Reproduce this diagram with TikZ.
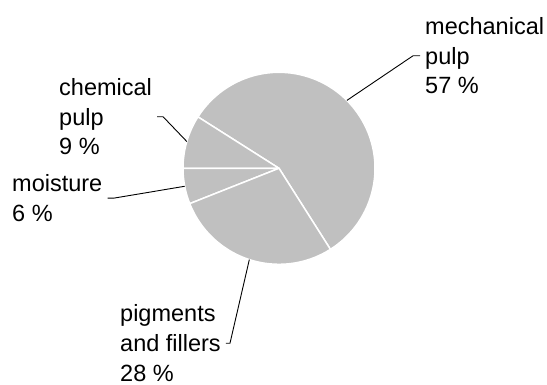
\documentclass[tikz,border=0pt]{standalone}
\usepackage{fontspec}
\setmainfont{Liberation Sans}
\usepackage{tikz}
\usepackage{xcolor}
\definecolor{piegray}{HTML}{C0C0C0}
\tikzset{
  slice/.style={fill=piegray, draw=white, line width=1.5pt, line join=round},
  lbl/.style={align=left, inner xsep=5pt, inner ysep=0pt},
  leader/.style={draw=black, line width=0.9pt}
}

\begin{document}
\begin{tikzpicture}[x=1pt, y=1pt, font=\fontsize{23.5}{29.8}\selectfont]
    \useasboundingbox (0,0) rectangle (547,385);
    \coordinate (o) at (279,216.7);
    \foreach \a/\b in {-57.6/147.6, 147.6/180, 180/201.6, 201.6/302.4}
        \draw[slice] (o) -- ++(\a:96) arc[start angle=\a, end angle=\b, radius=96] -- cycle;
    \coordinate (mechedge) at ([shift={(45:96)}]o);
    \coordinate (chemedge) at ([shift={(163.8:96)}]o);
    \coordinate (moistedge) at ([shift={(190.8:96)}]o);
    \coordinate (pigedge) at ([shift={(252:96)}]o);
    % base anchor sits on the last line
    \node[lbl, anchor=base west] (mech) at (420,291) {mechanical\\pulp\\57 \%};
    \node[lbl, anchor=base west] (chem) at (54,230) {chemical\\pulp\\9 \%};
    \node[lbl, anchor=base west] (moist) at (7,163.5) {moisture\\6 \%};
    \node[lbl, anchor=base west] (pig) at (115,3.5) {pigments\\and fillers\\28 \%};
    \draw[leader] (mechedge) -- ([xshift=-7pt]mech.west) -- (mech.west);
    \draw[leader] (chemedge) -- ([xshift=6pt]chem.east) -- (chem.east);
    \draw[leader] (moistedge) -- ([xshift=6pt]moist.east) -- (moist.east);
    \draw[leader] (pigedge) -- ([xshift=4pt]pig.east) -- (pig.east);
\end{tikzpicture}
\end{document}
